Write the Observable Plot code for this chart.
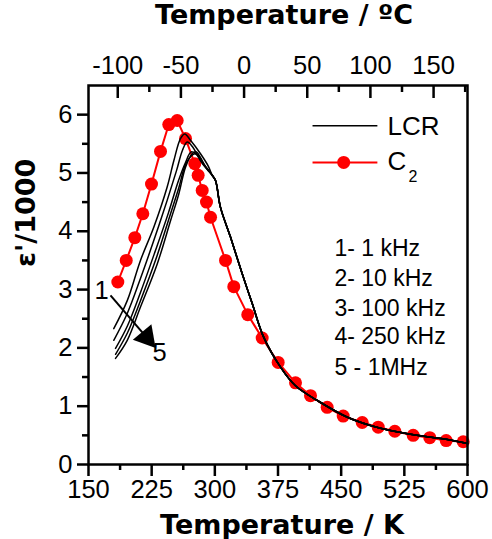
<!DOCTYPE html>
<html><head><meta charset="utf-8">
<script src="https://cdn.jsdelivr.net/npm/d3@7"></script>
<script src="https://cdn.jsdelivr.net/npm/@observablehq/plot@0.6"></script>
<style>body{margin:0;background:#fff;} svg{display:block}</style>
</head><body><div id="chart"></div>
<script>
// ---- axes ----
const xDomain = [150, 600];
const yDomain = [0, 6.5];
const xTicks = [150, 225, 300, 375, 450, 525, 600];
const xMinor = [187.5, 262.5, 337.5, 412.5, 487.5, 562.5];
const yTicks = [0, 1, 2, 3, 4, 5, 6];
const yMinor = [0.5, 1.5, 2.5, 3.5, 4.5, 5.5];
const topDomain = [-123.15, 176.85];          // top (°C) axis as drawn in the original
const topTickLabels = [-100, -50, 0, 50, 100, 150];
const topMinor = [-75, -25, 25, 75, 125, 175];

// ---- C2 model (red) ----
const c2T = [184.8,194.8,205.0,214.5,224.8,235.5,245.3,255.3,265.2,276.2,280.2,285.0,290.1,294.9,312.7,322.5,339.1,356.2,375.2,395.8,413.6,433.4,452.4,475.0,494.0,513.7,535.5,555.2,574.7,594.9];
const c2E = [3.13,3.50,3.89,4.30,4.81,5.37,5.83,5.90,5.59,5.16,4.96,4.70,4.50,4.24,3.50,3.05,2.57,2.17,1.75,1.40,1.18,0.98,0.83,0.72,0.64,0.57,0.50,0.46,0.41,0.39];

// ---- LCR measurements (black), 5 frequencies ----
const lcr1T = [180.0,196.0,211.7,227.5,243.4,251.3,259.2,264.3,271.1,283.0,292.5];
const lcr1E = [2.33,2.81,3.50,4.07,4.76,5.21,5.59,5.67,5.56,5.33,5.11];
const lcr2T = [180.0,196.0,211.7,227.5,243.4,254.5,261.6,267.2,273.5,283.0,291.0];
const lcr2E = [2.13,2.59,3.19,3.84,4.53,5.04,5.39,5.53,5.45,5.21,5.06];
const lcr3T = [182.1,196.3,211.7,229.5,245.0,256.9,265.2,271.9,278.2,286.5];
const lcr3E = [1.99,2.38,2.95,3.67,4.32,4.87,5.18,5.36,5.32,5.14];
const lcr4T = [182.1,196.3,211.7,230.7,246.1,256.9,266.4,276.2,281.8,288.9];
const lcr4E = [1.89,2.26,2.81,3.55,4.24,4.73,5.18,5.33,5.28,5.11];
const lcr5T = [182.1,196.0,211.7,231.6,247.4,257.2,265.2,273.1,278.2,286.5];
const lcr5E = [1.82,2.13,2.70,3.44,4.18,4.64,5.10,5.33,5.36,5.16];
// common high-temperature part where all frequencies coincide
const lcrTailT = [296.9,300.8,306.7,318.6,332.5,344.4,358.1,378.0,395.8,421.5,457.5,496.7,535.9,576.2,600];
const lcrTailE = [4.96,4.87,4.41,3.90,3.27,2.76,2.18,1.67,1.35,1.10,0.81,0.62,0.51,0.43,0.36];

// ---- legend / annotation texts ----
const legendNames = ["LCR", "C"];
const freqLabels = ["1- 1 kHz", "2- 10 kHz", "3- 100 kHz", "4- 250 kHz", "5 - 1MHz"];
const freqLabelE = [3.70, 3.18, 2.68, 2.19, 1.67];
const freqLabelT = 442;
const arrowStart = {T: 176.1, E: 2.90};
const arrowEnd = {T: 219.0, E: 2.18};
const arrowLabels = [{t: "1", T: 165.5, E: 2.97}, {t: "5", T: 234.3, E: 1.92}];

// ---- build tables ----
const c2 = c2T.map((T, i) => ({T, E: c2E[i]}));
const lcrSets = [[lcr1T, lcr1E], [lcr2T, lcr2E], [lcr3T, lcr3E], [lcr4T, lcr4E], [lcr5T, lcr5E]];
const lcr = lcrSets.flatMap(([Ts, Es], s) =>
  Ts.map((T, i) => ({s, T, E: Es[i]})).concat(lcrTailT.map((T, i) => ({s, T, E: lcrTailE[i]}))));
const toK = c => xDomain[0] + (c - topDomain[0]) * (xDomain[1] - xDomain[0]) / (topDomain[1] - topDomain[0]);

const W = 492, H = 539, mL = 88, mR = 25, mT = 85, mB = 75;
const plotH = H - mT - mB;
const reg = "'Liberation Sans', Arial, sans-serif";
const boldF = "'DejaVu Sans', sans-serif";

const chart = Plot.plot({
  width: W, height: H,
  marginLeft: mL, marginRight: mR, marginTop: mT, marginBottom: mB,
  style: {fontFamily: reg, background: "white", color: "black"},
  x: {domain: xDomain, label: null},
  y: {domain: yDomain, label: null},
  marks: [
    // red model
    Plot.line(c2, {x: "T", y: "E", stroke: "#ff0000", strokeWidth: 2}),
    Plot.dot(c2, {x: "T", y: "E", r: 6.5, fill: "#ff0000", stroke: "none"}),
    // black LCR
    Plot.line(lcr, {x: "T", y: "E", z: "s", stroke: "black", strokeWidth: 1.5, curve: "catmull-rom"}),
    // bottom axis
    Plot.axisX({ticks: xTicks, tickSize: 12, tickPadding: 3, fontSize: 25.5, strokeWidth: 2.5, tickFormat: d => String(d), label: null}),
    Plot.axisX({ticks: xMinor, tickSize: 6, strokeWidth: 2.5, tickFormat: () => "", label: null}),
    // left axis
    Plot.axisY({ticks: yTicks, tickSize: 11, tickPadding: 5, fontSize: 25.5, strokeWidth: 2.5, tickFormat: d => String(d), label: null}),
    Plot.axisY({ticks: yMinor, tickSize: 6, strokeWidth: 2.5, tickFormat: () => "", label: null}),
    // top (°C) axis: ticks pointing inward
    Plot.ruleX(topTickLabels, {x: toK, insetBottom: plotH - 13, strokeWidth: 2.5}),
    Plot.ruleX(topMinor, {x: toK, insetBottom: plotH - 7, strokeWidth: 2.5}),
    Plot.text(topTickLabels, {x: toK, frameAnchor: "top", lineAnchor: "bottom", dy: -12, text: d => String(d), fontSize: 25.5}),
    // titles
    Plot.text(["Temperature / ºC"], {frameAnchor: "top", lineAnchor: "middle", dx: 6, dy: -70, text: d => d, fontSize: 27, fontWeight: "bold", fontFamily: boldF}),
    Plot.text(["Temperature / K"], {frameAnchor: "bottom", lineAnchor: "middle", dx: 4, dy: 61, text: d => d, fontSize: 27, fontWeight: "bold", fontFamily: boldF}),
    Plot.text(["ε'/1000"], {frameAnchor: "left", lineAnchor: "middle", rotate: -90, dx: -62, dy: -8, text: d => d, fontSize: 27, fontWeight: "bold", fontFamily: boldF}),
    // legend
    Plot.link([0], {x1: 416, x2: 493, y1: 5.81, y2: 5.81, stroke: "black", strokeWidth: 1.5}),
    Plot.link([0], {x1: 416, x2: 493, y1: 5.18, y2: 5.18, stroke: "#ff0000", strokeWidth: 2}),
    Plot.dot([0], {x: 453, y: 5.18, r: 6.5, fill: "#ff0000", stroke: "none"}),
    Plot.text([legendNames[0]], {x: 505, y: 5.80, text: d => d, textAnchor: "start", fontSize: 26}),
    Plot.text([legendNames[1]], {x: 505, y: 5.20, text: d => d, textAnchor: "start", fontSize: 26}),
    Plot.text(["2"], {x: 530, y: 4.93, text: d => d, textAnchor: "start", fontSize: 16}),
    // frequency list
    Plot.text(freqLabels, {x: () => freqLabelT, y: (d, i) => freqLabelE[i], text: d => d, textAnchor: "start", fontSize: 23}),
    // arrow 1 -> 5
    Plot.link([arrowStart], {x1: "T", y1: "E", x2: () => arrowEnd.T, y2: () => arrowEnd.E, stroke: "black", strokeWidth: 2}),
    Plot.dot([arrowEnd], {x: "T", y: "E", symbol: "triangle", r: 9, rotate: 140, fill: "black", stroke: "none"}),
    Plot.text(arrowLabels, {x: "T", y: "E", text: "t", fontSize: 25.5}),
    Plot.frame({strokeWidth: 2.5})
  ]
});
document.getElementById("chart").append(chart);
</script>
</body></html>
